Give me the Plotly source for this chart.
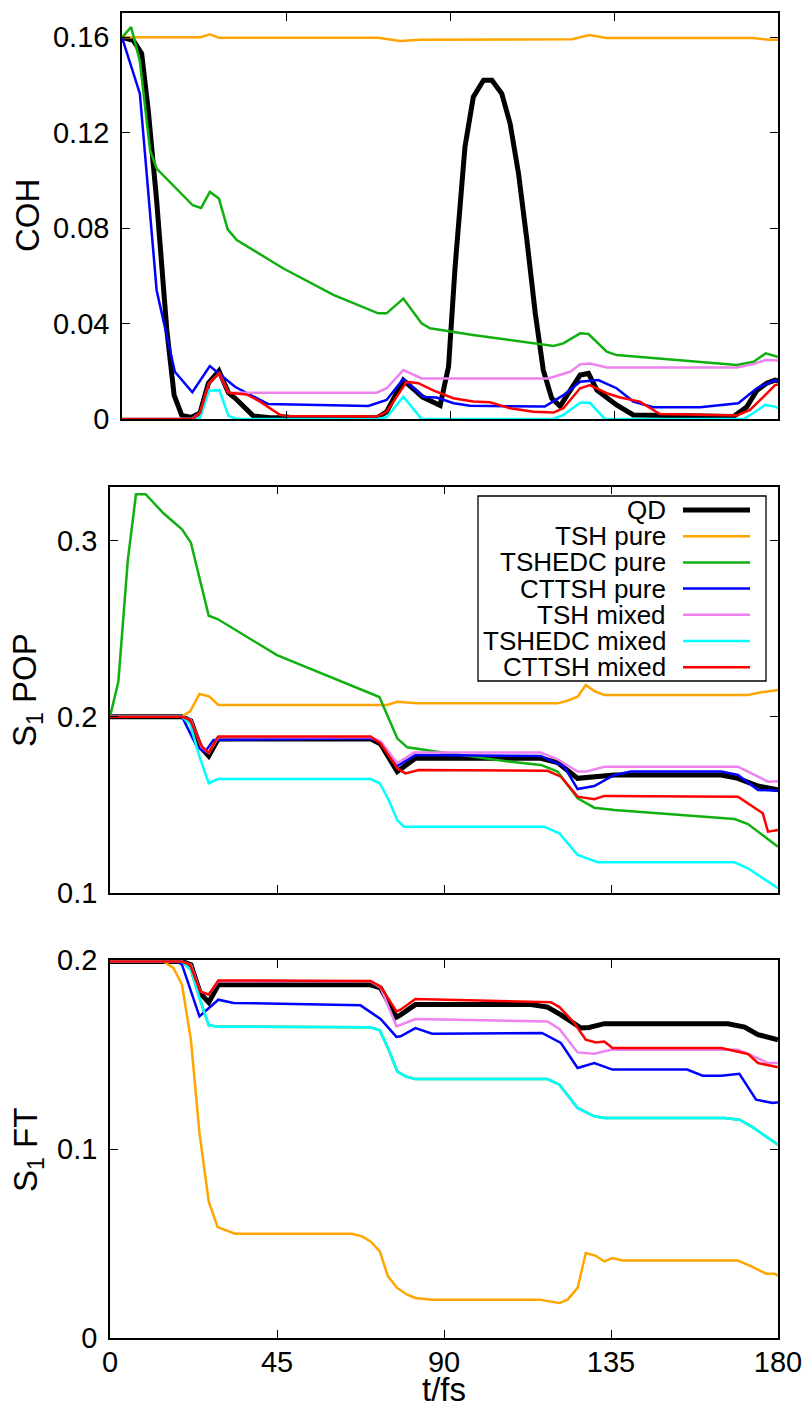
import plotly.graph_objects as go

# ---------------- data ----------------
series_names = ["QD", "TSH pure", "TSHEDC pure", "CTTSH pure", "TSH mixed", "TSHEDC mixed", "CTTSH mixed"]
series_colors = ["#000000", "#FFA500", "#10B010", "#0000FF", "#EE82EE", "#00FFFF", "#FF0000"]
series_widths = [5, 2.5, 2.5, 2.5, 2.5, 2.5, 2.5]

x_ticks = [0, 45, 90, 135, 180]

# ---- Panel 1 : COH ----
coh_qd_t = [0, 3.1, 5.4, 7.2, 9.5, 12.3, 14.3, 16.4, 19.1, 21.4, 23.7, 26.6, 29.2, 31, 36, 40.6, 70, 72.6, 77.2, 82.5,
            87.3, 89.6, 91.4, 94.1, 96.4, 99.2, 101.5, 104.2, 106.5, 108.8, 111.1, 113.4, 115.6, 117.9, 120.2, 122.9,
            125.7, 128, 130.3, 135.7, 140.3, 167.8, 171.4, 174.2, 176.9, 179.2, 180]
coh_qd = [0.16, 0.1587, 0.1532, 0.1294, 0.0917, 0.0373, 0.010, 0.0015, 0.0007, 0.0025, 0.015, 0.0202, 0.011, 0.0088,
          0.0013, 0.0005, 0.0005, 0.003, 0.0163, 0.0092, 0.0057, 0.0219, 0.0638, 0.114, 0.135, 0.142, 0.142, 0.1364,
          0.1238, 0.1029, 0.075, 0.0443, 0.0205, 0.0087, 0.0054, 0.0121, 0.0184, 0.0191, 0.0121, 0.0059, 0.0017,
          0.001, 0.005, 0.012, 0.015, 0.0163, 0.016]

coh_tsh_pure_t = [0, 21.5, 24.1, 26.6, 70.3, 76.3, 82, 120, 123.5, 128.2, 133, 173, 177.5, 180]
coh_tsh_pure = [0.16, 0.16, 0.1613, 0.1598, 0.1598, 0.1585, 0.159, 0.159, 0.1592, 0.161, 0.1597, 0.1597, 0.159, 0.159]

coh_tshedc_pure_t = [0, 2.5, 4.9, 7.7, 9.5, 19.4, 21.7, 24.1, 26.6, 29, 31.5, 44.3, 58, 70.3, 72.6, 77.2, 82.2, 84.5,
                     96.3, 118.4, 121.1, 125.7, 128, 133, 135.7, 168.7, 173.3, 176.6, 179.2, 180]
coh_tshedc_pure = [0.16, 0.1643, 0.150, 0.1127, 0.105, 0.0896, 0.0885, 0.0952, 0.0924, 0.0795, 0.075, 0.0631, 0.052,
                   0.0443, 0.0443, 0.0505, 0.0401, 0.038, 0.0352, 0.0306, 0.0317, 0.0359, 0.0356, 0.0282, 0.0268,
                   0.0226, 0.024, 0.0275, 0.0264, 0.026]

coh_cttsh_pure_t = [0, 4.9, 9.5, 14.5, 19.3, 24.1, 31, 36, 40, 54, 67.6, 72.6, 77.2, 82.7, 86.3, 91, 95.5, 116, 121.1,
                    125.7, 130.7, 135.7, 140.3, 145.8, 158.6, 169.1, 174.2, 179.2, 180]
coh_cttsh_pure = [0.16, 0.1364, 0.054, 0.0198, 0.0112, 0.0222, 0.0135, 0.0095, 0.0063, 0.0059, 0.0055, 0.008, 0.0168,
                  0.0092, 0.009, 0.0066, 0.0056, 0.0052, 0.01, 0.0156, 0.0163, 0.0129, 0.0073, 0.0049, 0.0049,
                  0.0066, 0.0129, 0.0163, 0.0155]

coh_tsh_mixed_t = [0, 19.1, 21.4, 23.9, 26.7, 29.2, 34.2, 69.9, 72.6, 77.2, 82.2, 116.9, 123, 125.7, 128.4, 133,
                   168.7, 173.3, 176.5, 180]
coh_tsh_mixed = [0, 0, 0.0025, 0.015, 0.0191, 0.011, 0.011, 0.011, 0.0129, 0.0205, 0.017, 0.017, 0.0198, 0.0229,
                 0.0233, 0.0216, 0.0216, 0.023, 0.0247, 0.0245]

coh_tshedc_mixed_t = [0, 19.4, 21.4, 23.9, 26.7, 29.2, 31.5, 69.9, 72.6, 77.2, 82.2, 118.4, 121.1, 125.7, 128.4,
                      132.5, 170.5, 173.3, 176.5, 179.2, 180]
coh_tshedc_mixed = [0, 0, 0.0005, 0.0119, 0.0121, 0.0013, 0, 0, 0.0007, 0.0093, 0, 0, 0.0017, 0.0068, 0.0068, 0, 0,
                    0.0025, 0.0059, 0.0052, 0.0045]

coh_cttsh_mixed_t = [0, 19.4, 21.4, 23.9, 26.7, 29.2, 34.2, 37.9, 43.4, 46.1, 70, 72.6, 78.1, 81.3, 85.4, 90.9, 96.4,
                     101, 106.5, 112.9, 118.4, 121.1, 125.7, 128.4, 133, 136.7, 142.1, 147.6, 168.7, 172.3, 176,
                     179.2, 180]
coh_cttsh_mixed = [0, 0, 0.0025, 0.015, 0.0191, 0.011, 0.0103, 0.0073, 0.0017, 0.0013, 0.001, 0.003, 0.0156, 0.015,
                   0.012, 0.0087, 0.0073, 0.007, 0.0045, 0.003, 0.0027, 0.0045, 0.0129, 0.0142, 0.0108, 0.009,
                   0.0073, 0.0021, 0.0015, 0.0038, 0.0093, 0.0142, 0.0145]

# ---- Panel 2 : S1 POP ----
pop_qd_t = [0, 19.4, 21.8, 24.3, 26.6, 29.2, 70.2, 72.9, 77.4, 82.3, 116.1, 120.6, 126, 130.5, 135.9, 164.7, 169.2,
            174.6, 180]
pop_qd = [0.2, 0.2, 0.1977, 0.183, 0.1777, 0.1874, 0.1874, 0.1845, 0.1688, 0.1764, 0.1764, 0.1739, 0.165, 0.166,
          0.1669, 0.1669, 0.165, 0.1606, 0.1584]

pop_tsh_pure_t = [0, 19.2, 21.6, 24.1, 26.7, 29.2, 74.7, 77.4, 82.8, 120.6, 123.3, 126, 128.2, 130.5, 133.2, 171.9,
                  175.5, 180]
pop_tsh_pure = [0.2, 0.2, 0.2030, 0.2129, 0.2116, 0.2067, 0.2067, 0.2085, 0.2076, 0.2076, 0.2091, 0.2114, 0.218,
                0.2146, 0.2123, 0.2123, 0.2139, 0.2152]

pop_tshedc_pure_t = [0, 2.25, 4.8, 7.0, 9.6, 14.4, 19.4, 21.8, 26.6, 29, 45, 60.3, 67.5, 70.2, 72.6, 77.4, 80.1, 88.2,
                     108, 116.1, 120.6, 126, 130.5, 135.9, 168.3, 171.9, 180]
pop_tshedc_pure = [0.2, 0.2199, 0.289, 0.3264, 0.3264, 0.3156, 0.3065, 0.2989, 0.2574, 0.2555, 0.235, 0.2218, 0.2155,
                   0.2135, 0.2112, 0.1877, 0.1826, 0.1801, 0.1744, 0.1726, 0.1688, 0.1536, 0.1483, 0.147, 0.1419,
                   0.139, 0.1261]

pop_cttsh_pure_t = [0, 19.4, 23.4, 25.6, 27.9, 70.2, 72.9, 77.4, 82.3, 116.1, 122.4, 126, 130.5, 135.9, 140.4, 164.7,
                    169.2, 174.6, 180]
pop_cttsh_pure = [0.2, 0.2, 0.183, 0.180, 0.1868, 0.1877, 0.1857, 0.172, 0.1782, 0.1777, 0.1716, 0.1589, 0.1606,
                  0.1669, 0.1688, 0.1688, 0.1669, 0.1584, 0.158]

pop_tsh_mixed_t = [0, 19.4, 21.8, 24.6, 26.6, 29.2, 70.2, 72.9, 77.4, 81.9, 116.1, 120.6, 126, 128.2, 133.2, 169.2,
                   173.7, 177.3, 180]
pop_tsh_mixed = [0.2, 0.2, 0.1982, 0.183, 0.1795, 0.1883, 0.1883, 0.186, 0.1735, 0.1796, 0.1796, 0.1758, 0.1688,
                 0.1688, 0.1716, 0.1716, 0.1669, 0.1631, 0.1633]

pop_tshedc_mixed_t = [0, 19.4, 21.6, 24.1, 26.6, 29, 70.2, 72.7, 75.1, 77.4, 79.2, 117, 121.1, 126, 131.4, 168.3,
                      171.9, 180]
pop_tshedc_mixed = [0.2, 0.2, 0.1958, 0.1773, 0.1622, 0.1646, 0.1646, 0.1622, 0.1527, 0.1413, 0.1375, 0.1375, 0.1337,
                    0.1214, 0.1173, 0.1173, 0.1139, 0.1025]

pop_cttsh_mixed_t = [0, 19.4, 21.6, 24.8, 26.6, 29.2, 70.2, 72.9, 77.4, 79.6, 83.2, 117.9, 121.5, 126, 130.5, 133.2,
                     169.2, 171.9, 175.9, 177.3, 180]
pop_cttsh_mixed = [0.2, 0.2, 0.1982, 0.183, 0.1796, 0.1888, 0.1888, 0.1849, 0.1707, 0.1678, 0.1697, 0.1693, 0.1659,
                   0.1546, 0.1531, 0.155, 0.1545, 0.1508, 0.1451, 0.1347, 0.1356]

# ---- Panel 3 : S1 FT ----
ft_qd_t = [0, 19.4, 21.8, 24.3, 26.6, 29.2, 70.2, 72.9, 77.2, 78.3, 82.3, 113.4, 117.9, 121.5, 126.9, 129.1, 133.2,
           166.5, 171, 174.6, 180]
ft_qd = [0.1992, 0.1992, 0.1975, 0.1825, 0.1775, 0.1869, 0.1869, 0.1852, 0.1698, 0.171, 0.1764, 0.1764, 0.1751,
         0.171, 0.164, 0.1643, 0.1663, 0.1663, 0.1645, 0.1605, 0.1578]

ft_tsh_pure_t = [0, 14.4, 17.1, 19.4, 21.8, 24.1, 26.6, 29, 33.7, 65.2, 67.9, 70.2, 72.7, 74.9, 77.4, 80.1, 82.3,
                 86.8, 115.6, 121.1, 123.3, 126, 128.2, 130.9, 133.2, 135.4, 138.1, 169.2, 172.8, 176.9, 179.1, 180]
ft_tsh_pure = [0.1992, 0.1992, 0.1958, 0.1869, 0.1578, 0.1085, 0.0723, 0.0587, 0.0552, 0.0552, 0.0538, 0.0511,
               0.0458, 0.0326, 0.0265, 0.0229, 0.0212, 0.0203, 0.0203, 0.0185, 0.0203, 0.0265, 0.045, 0.0435,
               0.0405, 0.0423, 0.041, 0.041, 0.0379, 0.034, 0.034, 0.0329]

ft_tshedc_mixed_t = [0, 19.4, 21.8, 24.1, 26.6, 29.2, 70.2, 72.7, 75.1, 77.4, 79.6, 82.3, 117.9, 121.1, 126, 130.5,
                     133.2, 165.6, 169.6, 172.8, 180]
ft_tshedc_mixed = [0.1992, 0.1992, 0.1948, 0.1799, 0.1655, 0.1647, 0.1644, 0.1628, 0.1525, 0.1411, 0.1384, 0.137,
                   0.137, 0.134, 0.1217, 0.1173, 0.1164, 0.1164, 0.1155, 0.112, 0.1023]

# TSHEDC pure coincides with TSHEDC mixed in this panel (hidden underneath)
ft_tshedc_pure_t = list(ft_tshedc_mixed_t)
ft_tshedc_pure = list(ft_tshedc_mixed)

ft_cttsh_pure_t = [0, 18.3, 19.4, 24.1, 29.2, 33.3, 67.5, 72.9, 77.2, 78.3, 82.3, 86.8, 116.4, 121.5, 126, 130.5,
                   135.4, 155.5, 159.7, 164.7, 169.6, 174.1, 178.6, 180]
ft_cttsh_pure = [0.1992, 0.1992, 0.1975, 0.1702, 0.179, 0.1773, 0.176, 0.1688, 0.1593, 0.1596, 0.164, 0.161, 0.1614,
                 0.1561, 0.1429, 0.1455, 0.142, 0.142, 0.1388, 0.1388, 0.1398, 0.1261, 0.1243, 0.1247]

ft_tsh_mixed_t = [0, 19.4, 21.8, 24.3, 26.6, 29.2, 70.2, 72.9, 77.2, 78.3, 82.3, 117.9, 121.1, 126, 130.5, 135,
                  169.2, 173.7, 177.3, 180]
ft_tsh_mixed = [0.1992, 0.1992, 0.1975, 0.1834, 0.1816, 0.1887, 0.1887, 0.1855, 0.1649, 0.1658, 0.1688, 0.1675,
                0.1635, 0.1511, 0.1504, 0.1525, 0.1525, 0.1487, 0.1455, 0.1455]

ft_cttsh_mixed_t = [0, 19.4, 21.6, 24.3, 26.6, 29.2, 70.2, 72.9, 77.2, 78.3, 82.3, 118.8, 121.1, 125.1, 128.2, 130.9,
                    133.2, 135.4, 164.7, 171.9, 174.6, 180]
ft_cttsh_mixed = [0.1992, 0.1992, 0.1975, 0.1834, 0.1816, 0.1892, 0.1889, 0.186, 0.1728, 0.1737, 0.1794, 0.1777,
                  0.1751, 0.1667, 0.1578, 0.1564, 0.1569, 0.1534, 0.1534, 0.1503, 0.1455, 0.1432]

panels = [
    [(coh_qd_t, coh_qd), (coh_tsh_pure_t, coh_tsh_pure), (coh_tshedc_pure_t, coh_tshedc_pure),
     (coh_cttsh_pure_t, coh_cttsh_pure), (coh_tsh_mixed_t, coh_tsh_mixed),
     (coh_tshedc_mixed_t, coh_tshedc_mixed), (coh_cttsh_mixed_t, coh_cttsh_mixed)],
    [(pop_qd_t, pop_qd), (pop_tsh_pure_t, pop_tsh_pure), (pop_tshedc_pure_t, pop_tshedc_pure),
     (pop_cttsh_pure_t, pop_cttsh_pure), (pop_tsh_mixed_t, pop_tsh_mixed),
     (pop_tshedc_mixed_t, pop_tshedc_mixed), (pop_cttsh_mixed_t, pop_cttsh_mixed)],
    [(ft_qd_t, ft_qd), (ft_tsh_pure_t, ft_tsh_pure), (ft_tshedc_pure_t, ft_tshedc_pure),
     (ft_cttsh_pure_t, ft_cttsh_pure), (ft_tsh_mixed_t, ft_tsh_mixed),
     (ft_tshedc_mixed_t, ft_tshedc_mixed), (ft_cttsh_mixed_t, ft_cttsh_mixed)],
]

y_titles = ["COH", "S<sub>1</sub> POP", "S<sub>1</sub> FT"]
y_tickvals = [[0, 0.04, 0.08, 0.12, 0.16], [0.1, 0.2, 0.3], [0, 0.1, 0.2]]
y_ticktext = [["0", "0.04", "0.08", "0.12", "0.16"], ["0.1", "0.2", "0.3"], ["0", "0.1", "0.2"]]
y_ranges = [[0, 0.1702], [0.1, 0.3307], [0, 0.2]]

# ---------------- figure ----------------
W, H = 809, 1409
ML, MR, MT, MB = 110, 31, 13, 71
PW, PH = W - ML - MR, H - MT - MB
FONT = "Liberation Sans, Arial, Helvetica, sans-serif"


def px_x(px):
    return (px - ML) / PW


def px_y(py):
    return (H - MB - py) / PH


x_domains = [[px_x(122), 1.0], [0.0, 1.0], [0.0, 1.0]]
y_domains = [[px_y(419), 1.0], [px_y(892.7), px_y(486.7)], [0.0, px_y(960)]]

fig = go.Figure()
for p, panel in enumerate(panels):
    ax = "" if p == 0 else str(p + 1)
    for s, (t, v) in enumerate(panel):
        fig.add_trace(go.Scatter(
            x=t, y=v, mode="lines", name=series_names[s], showlegend=False,
            line=dict(color=series_colors[s], width=series_widths[s]),
            xaxis="x" + ax, yaxis="y" + ax, hoverinfo="skip"))

axis_common = dict(showline=True, linecolor="black", linewidth=1.5, mirror="allticks",
                   ticks="inside", ticklen=8, tickwidth=1.3, tickcolor="black",
                   showgrid=False, zeroline=False, automargin=False,
                   tickfont=dict(family=FONT, size=29, color="black"))

layout = dict(template="none", width=W, height=H, margin=dict(l=ML, r=MR, t=MT, b=MB, autoexpand=False),
              paper_bgcolor="white", plot_bgcolor="white", showlegend=False,
              font=dict(family=FONT, color="black"))
for p in range(3):
    ax = "" if p == 0 else str(p + 1)
    layout["xaxis" + ax] = dict(axis_common, domain=x_domains[p], range=[0, 180],
                                tickvals=x_ticks, ticktext=[str(v) for v in x_ticks],
                                showticklabels=(p == 2), ticklabelstandoff=-3,
                                anchor="y" + ax)
    layout["yaxis" + ax] = dict(axis_common, domain=y_domains[p], range=y_ranges[p],
                                tickvals=y_tickvals[p], ticktext=y_ticktext[p],
                                ticklabelstandoff=5, anchor="x" + ax)
fig.update_layout(**layout)

annotations = []
title_pos = [(27, 216), (27, 690), (28, 1150)]
for p in range(3):
    annotations.append(dict(text=y_titles[p], x=px_x(title_pos[p][0]), y=px_y(title_pos[p][1]),
                            xref="paper", yref="paper", showarrow=False, textangle=-90,
                            xanchor="center", yanchor="middle",
                            font=dict(family=FONT, size=33, color="black")))
annotations.append(dict(text="t/fs", x=px_x(444), y=px_y(1389), xref="paper", yref="paper",
                        showarrow=False, xanchor="center", yanchor="middle",
                        font=dict(family=FONT, size=33, color="black")))

# ---- custom gnuplot-style legend in panel 2 ----
shapes = [dict(type="rect", xref="paper", yref="paper", x0=px_x(478), x1=px_x(766),
               y0=px_y(681), y1=px_y(496), line=dict(color="black", width=1.3),
               fillcolor="white", layer="above")]
row0, drow = 510, 26.2
for i, name in enumerate(series_names):
    ry = row0 + i * drow
    annotations.append(dict(text=name, x=px_x(668), y=px_y(ry), xref="paper", yref="paper",
                            showarrow=False, xanchor="right", yanchor="middle",
                            font=dict(family=FONT, size=26, color="black")))
    shapes.append(dict(type="line", xref="paper", yref="paper", x0=px_x(683), x1=px_x(750),
                       y0=px_y(ry), y1=px_y(ry), layer="above",
                       line=dict(color=series_colors[i], width=series_widths[i])))

fig.update_layout(annotations=annotations, shapes=shapes)
fig.write_html("out.html", config={"displayModeBar": False},
               post_script="document.body.style.margin='0px';document.body.style.overflow='hidden';")
